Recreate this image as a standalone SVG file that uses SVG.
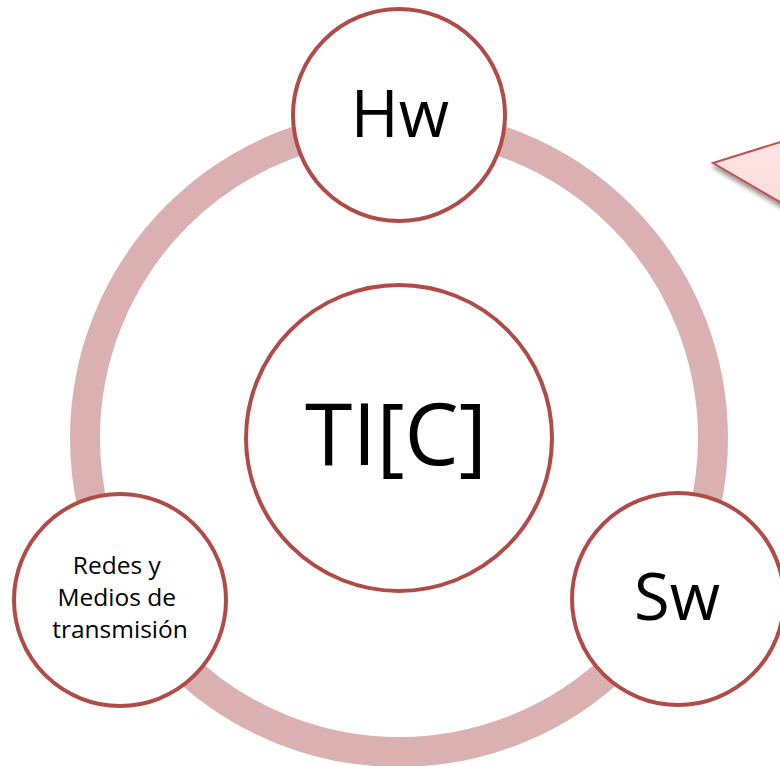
<svg xmlns="http://www.w3.org/2000/svg" width="780" height="766" viewBox="0 0 780 766">
  <style>
    .node { fill: #ffffff; stroke: #b04b48; stroke-width: 4; }
    .lbl { font-family: "Open Sans", "Noto Sans", "Liberation Sans", sans-serif; fill: #000000; text-anchor: middle; }
  </style>
  <defs>
    <filter id="shadow" x="-20%" y="-20%" width="140%" height="160%">
      <feGaussianBlur in="SourceAlpha" stdDeviation="2.5"/>
      <feOffset dx="1" dy="4" result="b"/>
      <feComponentTransfer><feFuncA type="linear" slope="0.45"/></feComponentTransfer>
      <feMerge><feMergeNode/><feMergeNode in="SourceGraphic"/></feMerge>
    </filter>
    <linearGradient id="pink" x1="0" y1="0" x2="0" y2="1">
      <stop offset="0" stop-color="#ffe4e4"/>
      <stop offset="1" stop-color="#ffdcdc"/>
    </linearGradient>
  </defs>
  <rect width="780" height="766" fill="#ffffff"/>
  <g id="connectors">
    <circle cx="399" cy="438" r="314" fill="none" stroke="#dbb0b0" stroke-width="30"/>
  </g>
  <g id="node-tic">
    <circle class="node" cx="399" cy="438" r="153"/>
    <text class="lbl" x="396" y="465" font-size="86">TI[C]</text>
  </g>
  <g id="node-hw">
    <circle class="node" cx="399" cy="115" r="106"/>
    <text class="lbl" x="400" y="137" font-size="65">Hw</text>
  </g>
  <g id="node-sw">
    <circle class="node" cx="678" cy="599" r="106"/>
    <text class="lbl" x="677" y="620" font-size="65">Sw</text>
  </g>
  <g id="node-redes">
    <circle class="node" cx="120" cy="600" r="106"/>
    <text class="lbl" font-size="24.5">
      <tspan x="120" y="574">Redes y</tspan>
      <tspan x="120" y="606">Medios de</tspan>
      <tspan x="120" y="638">transmisión</tspan>
    </text>
  </g>
  <g id="callout">
    <polygon points="713,163 790,139 790,208" fill="url(#pink)" stroke="#c0504d" stroke-width="2" stroke-linejoin="miter" filter="url(#shadow)"/>
  </g>
</svg>
